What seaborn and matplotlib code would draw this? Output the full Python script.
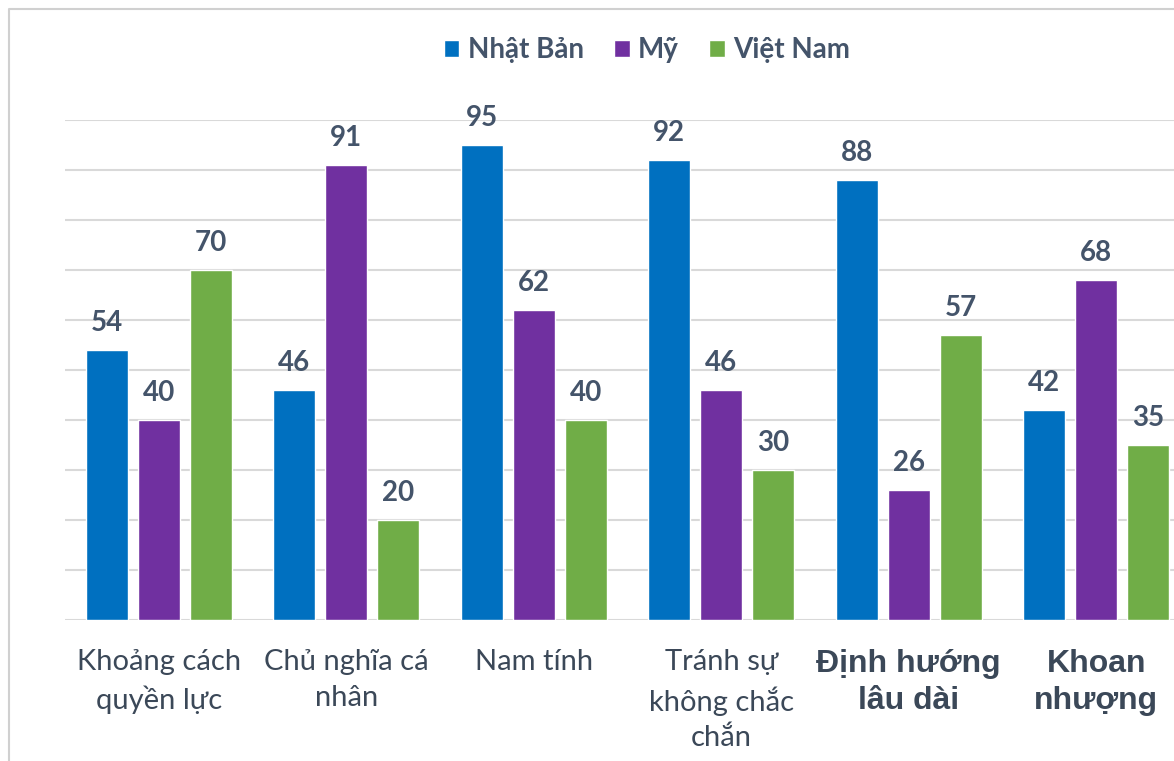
import matplotlib.pyplot as plt
import seaborn as sns
import pandas as pd
from matplotlib.lines import Line2D

# data
categories = ['Khoảng cách\nquyền lực', 'Chủ nghĩa cá\nnhân', 'Nam tính',
              'Tránh sự\nkhông chắc\nchắn', 'Định hướng\nlâu dài', 'Khoan\nnhượng']
countries = ['Nhật Bản', 'Mỹ', 'Việt Nam']
japan = [54, 46, 95, 92, 88, 42]
usa = [40, 91, 62, 46, 26, 68]
vietnam = [70, 20, 40, 30, 57, 35]
colors = ['#0070C0', '#7030A0', '#70AD47']

df = pd.DataFrame({
    'cat': categories * 3,
    'country': [countries[0]] * 6 + [countries[1]] * 6 + [countries[2]] * 6,
    'value': japan + usa + vietnam,
})

sns.set_style('white')
plt.rcParams['font.family'] = ['Lato', 'DejaVu Sans']
text_color = '#44546A'

W, H = 1174, 761
fig = plt.figure(figsize=(W / 100, H / 100), dpi=100)
# axes runs past the right edge, the last group is cut off like in the picture
ax = fig.add_axes([65 / W, (H - 620) / H, (1190 - 65) / W, 500 / H])

sns.barplot(data=df, x='cat', y='value', hue='country', palette=colors,
            width=0.832, gap=0.19, saturation=1, ax=ax)

ax.set_ylim(0, 100)
ax.set_xlim(-0.5, 5.5)
ax.set_yticks(range(0, 101, 10))
ax.yaxis.grid(True, color='#d9d9d9', linewidth=1.5)
ax.set_axisbelow(True)
ax.set_yticklabels([])
ax.tick_params(axis='y', length=0)
ax.tick_params(axis='x', length=0, pad=21)
for s in ax.spines.values():
    s.set_visible(False)
ax.set_xlabel('')
ax.set_ylabel('')

for lab in ax.get_xticklabels():
    lab.set_color('#3b4858')
    lab.set_fontsize(21)
    lab.set_linespacing(1.45)
ticklabels = ax.get_xticklabels()
for lab in ticklabels[4:]:
    lab.set_family(['Liberation Sans', 'DejaVu Sans'])
    lab.set_fontweight('bold')
    lab.set_fontsize(23)
    lab.set_linespacing(1.3)
    lab.set_y(lab.get_position()[1])

for cont in ax.containers:
    ax.bar_label(cont, padding=10, fontsize=20, fontweight='bold',
                 color=text_color, clip_on=False)

sns.move_legend(ax, 'center', bbox_to_anchor=(647 / W, 1 - 50 / H),
                bbox_transform=fig.transFigure, ncol=3, frameon=False, title=None,
                handlelength=0.55, handleheight=0.55, handletextpad=0.3,
                columnspacing=1.1, prop={'weight': 'bold', 'size': 20})
for t in ax.get_legend().get_texts():
    t.set_color(text_color)

# light frame around the chart area
fig.add_artist(Line2D([9 / W, 9 / W, 1], [0, 1 - 9 / H, 1 - 9 / H],
                      transform=fig.transFigure, color='#d0d0d0', linewidth=1.5))

fig.savefig('out.png', dpi=100)
